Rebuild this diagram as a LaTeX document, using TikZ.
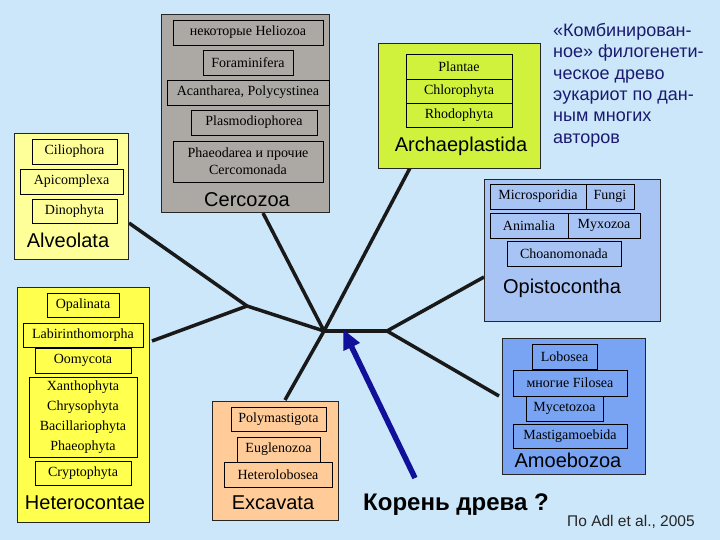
\documentclass[tikz,border=0pt]{standalone}
\usepackage{fontspec}
\setmainfont{Liberation Serif}
\newfontfamily\arialf{Liberation Sans}
\usetikzlibrary{arrows.meta}
\definecolor{bg}{HTML}{CBE7F9}
\definecolor{cercfill}{HTML}{ACA8A4}
\definecolor{alvfill}{HTML}{FFFF99}
\definecolor{hetfill}{HTML}{FFFF4D}
\definecolor{archfill}{HTML}{D0F23C}
\definecolor{opifill}{HTML}{A8C4F5}
\definecolor{amofill}{HTML}{78A4F3}
\definecolor{excfill}{HTML}{FFCC99}
\definecolor{arrowblue}{HTML}{10109A}
\definecolor{titlecol}{HTML}{1A1A70}
\newcommand\innerfs{\fontsize{14}{17}\selectfont}
\newcommand\labfs{\arialf\fontsize{20}{24}\selectfont}
\begin{document}
\begin{tikzpicture}[x=1pt,y=-1pt,
  outerbox/.style={draw=black!85, line width=0.8pt, inner sep=0pt},
  sub/.style={draw=black, line width=0.8pt, inner sep=0pt, font=\innerfs, align=center},
  grp/.style={font=\labfs, inner sep=0pt},
  branch/.style={line width=3.5pt, draw=black!90},
  rootarrow/.style={draw=arrowblue, line width=5.5pt, -{Triangle[length=20pt,width=17pt]}}]
\fill[bg] (0,0) rectangle (720,540);
\useasboundingbox (0,0) rectangle (720,540);

% ---------- tree ----------
\coordinate (C) at (324,331);
\coordinate (R) at (387,331);
\coordinate (L) at (247,306);
\coordinate (alvE) at (129,223);
\coordinate (hetE) at (152,341);
\coordinate (cercE) at (263,213);
\coordinate (archE) at (410,168);
\coordinate (excE) at (285,400);
\coordinate (opiE) at (484,277);
\coordinate (amoE) at (499,396);
\draw[branch] (alvE) -- (L);
\draw[branch] (hetE) -- (L);
\draw[branch] (L) -- (C);
\draw[branch] (cercE) -- (C);
\draw[branch] (archE) -- (C);
\draw[branch] (excE) -- (C);
\draw[branch] (C) -- (R);
\draw[branch] (R) -- (opiE);
\draw[branch] (R) -- (amoE);

% ---------- Cercozoa ----------
\node[outerbox, fill=cercfill, minimum width=168pt, minimum height=198pt] (cerc) at (245,113) {};
\node[sub, minimum width=150pt, minimum height=25pt] (helio) at (248,32.5) {некоторые Heliozoa};
\node[sub, minimum width=90pt, minimum height=25pt] (foram) at (248,62.5) {Foraminifera};
\node[sub, minimum width=162pt, minimum height=25pt] (acanth) at (248,92.5) {Acantharea, Polycystinea};
\node[sub, minimum width=126pt, minimum height=25pt] (plasmo) at (254,122.5) {Plasmodiophorea};
\node[sub, minimum width=150pt, minimum height=41pt] (phaeo) at (248,161.5) {Phaeodarea и прочие\\Cercomonada};
\node[grp] (cerclab) at (247,200) {Cercozoa};

% ---------- Alveolata ----------
\node[outerbox, fill=alvfill, minimum width=114pt, minimum height=126pt] (alv) at (71,196) {};
\node[sub, minimum width=85pt, minimum height=25pt] (cilio) at (74.5,151.5) {Ciliophora};
\node[sub, minimum width=103pt, minimum height=25pt] (apico) at (71.5,181.5) {Apicomplexa};
\node[sub, minimum width=85pt, minimum height=24pt] (dino) at (74.5,211) {Dinophyta};
\node[grp] (alvlab) at (68,240) {Alveolata};

% ---------- Archaeplastida ----------
\node[outerbox, fill=archfill, minimum width=162pt, minimum height=125pt] (arch) at (459,105.5) {};
\node[sub, minimum width=106pt, minimum height=25pt] (plantae) at (459,66.5) {Plantae};
\node[sub, minimum width=106pt, minimum height=24pt] (chloro) at (459,91) {Chlorophyta};
\node[sub, minimum width=106pt, minimum height=24pt] (rhodo) at (459,115) {Rhodophyta};
\node[grp] (archlab) at (461,146) {Archaeplastida};

% ---------- Opistocontha ----------
\node[outerbox, fill=opifill, minimum width=176pt, minimum height=142pt] (opi) at (572,250) {};
\node[sub, minimum width=96pt, minimum height=25pt] (micro) at (538,196.5) {Microsporidia};
\node[sub, minimum width=48pt, minimum height=25pt] (fungi) at (610,196.5) {Fungi};
\node[sub, minimum width=78pt, minimum height=25pt] (anim) at (529,225.5) {Animalia};
\node[sub, minimum width=72pt, minimum height=25pt] (myxo) at (604,225.5) {Myxozoa};
\node[sub, minimum width=114pt, minimum height=25pt] (choano) at (564,253.5) {Choanomonada};
\node[grp] (opilab) at (562,288) {Opistocontha};

% ---------- Amoebozoa ----------
\node[outerbox, fill=amofill, minimum width=143pt, minimum height=136pt] (amo) at (573.5,406) {};
\node[sub, minimum width=65pt, minimum height=25pt] (lobo) at (564.5,356.5) {Lobosea};
\node[sub, minimum width=114pt, minimum height=26pt] (filo) at (570,383) {многие Filosea};
\node[sub, minimum width=77pt, minimum height=25pt] (myceto) at (564.5,408.5) {Mycetozoa};
\node[sub, minimum width=114pt, minimum height=24pt] (mastig) at (570,436) {Mastigamoebida};
\node[grp] (amolab) at (568,460) {Amoebozoa};

% ---------- Heterocontae ----------
\node[outerbox, fill=hetfill, minimum width=132pt, minimum height=235pt] (het) at (83,404.5) {};
\node[sub, minimum width=72pt, minimum height=24pt] (opal) at (83,305) {Opalinata};
\node[sub, minimum width=120pt, minimum height=24pt] (labir) at (83,335) {Labirinthomorpha};
\node[sub, minimum width=96pt, minimum height=25pt] (oomy) at (83,360.5) {Oomycota};
\node[sub, minimum width=108pt, minimum height=80pt, font=\fontsize{14}{20}\selectfont] (xantho) at (83,417) {Xanthophyta\\Chrysophyta\\Bacillariophyta\\Phaeophyta};
\node[sub, minimum width=96pt, minimum height=24pt] (crypto) at (83,473) {Cryptophyta};
\node[grp] (hetlab) at (85,503) {Heterocontae};

% ---------- Excavata ----------
\node[outerbox, fill=excfill, minimum width=126pt, minimum height=119pt] (exc) at (275,460.5) {};
\node[sub, minimum width=95pt, minimum height=24pt] (poly) at (278.5,419) {Polymastigota};
\node[sub, minimum width=83pt, minimum height=25pt] (eugl) at (278.5,449.5) {Euglenozoa};
\node[sub, minimum width=108pt, minimum height=25pt] (heterolob) at (278,474.5) {Heterolobosea};
\node[grp] (exclab) at (273,503) {Excavata};

% ---------- root arrow ----------
\coordinate (rootS) at (415,478);
\coordinate (rootT) at (343,329);
\draw[rootarrow] (rootS) -- (rootT);

% ---------- texts ----------
\node[anchor=north west, inner sep=0pt, align=left, text=titlecol,
  font=\arialf\fontsize{18}{21.4}\selectfont] (title) at (553,23)
  {«Комбинирован-\\ное» филогенети-\\ческое древо\\эукариот по дан-\\ным многих\\авторов};
\node[anchor=west, inner sep=0pt, font=\arialf\bfseries\fontsize{24}{28}\selectfont] (rootlab) at (363,505) {Корень древа ?};
\node[anchor=west, inner sep=0pt, text=black!85, font=\arialf\fontsize{15.5}{18}\selectfont] (cite) at (567,522) {По Adl et al., 2005};
\end{tikzpicture}
\end{document}
